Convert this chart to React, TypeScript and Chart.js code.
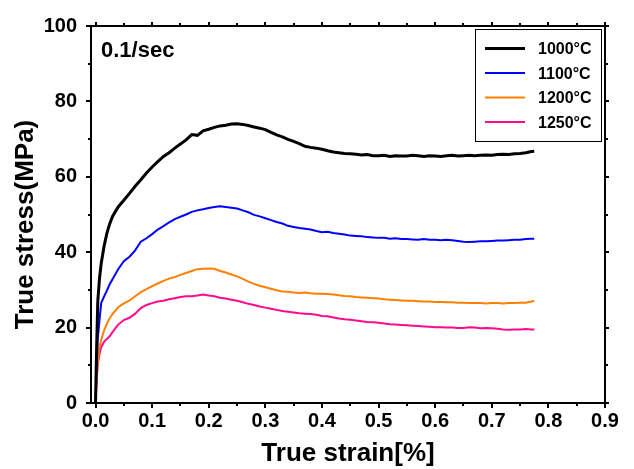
import React, { useEffect, useRef } from "react";
import { Chart, registerables } from "chart.js";

Chart.register(...registerables);

const STRAIN = [
  0, 0.002, 0.004, 0.007, 0.01, 0.015, 0.02, 0.025,
  0.03, 0.04, 0.05, 0.06, 0.07, 0.08, 0.09, 0.1, 0.11, 0.12,
  0.13, 0.14, 0.15, 0.16, 0.17, 0.18, 0.19, 0.2, 0.21, 0.22,
  0.23, 0.24, 0.25, 0.26, 0.27, 0.28, 0.29, 0.3, 0.31, 0.32,
  0.33, 0.34, 0.35, 0.36, 0.37, 0.38, 0.39, 0.4, 0.41, 0.42,
  0.43, 0.44, 0.45, 0.46, 0.47, 0.48, 0.49, 0.5, 0.51, 0.52,
  0.53, 0.54, 0.55, 0.56, 0.57, 0.58, 0.59, 0.6, 0.61, 0.62,
  0.63, 0.64, 0.65, 0.66, 0.67, 0.68, 0.69, 0.7, 0.71, 0.72,
  0.73, 0.74, 0.75, 0.76, 0.77, 0.775,
];

const STRESS_1000 = [
  0, 15, 27, 33, 37, 41.5, 45, 47.5,
  49.5, 52.0, 53.8, 55.6, 57.5, 59.2, 61.0, 62.6, 64.0, 65.4,
  66.4, 67.6, 68.7, 69.8, 71.2, 71.0, 72.2, 72.6, 73.1, 73.5,
  73.7, 74.0, 74.1, 73.9, 73.6, 73.2, 72.9, 72.5, 71.8, 71.1,
  70.6, 69.9, 69.4, 68.8, 68.1, 67.8, 67.6, 67.3, 66.9, 66.6,
  66.4, 66.2, 66.1, 66.0, 65.8, 65.9, 65.6, 65.6, 65.7, 65.4,
  65.6, 65.5, 65.5, 65.7, 65.6, 65.4, 65.6, 65.5, 65.4, 65.6,
  65.7, 65.5, 65.6, 65.7, 65.6, 65.7, 65.8, 65.7, 65.9, 66.0,
  65.9, 66.1, 66.2, 66.4, 66.7, 66.8,
];

const STRESS_1100 = [
  0, 10, 17, 22, 26.5, 28.2, 29.8, 31.5,
  32.8, 35.5, 37.6, 38.8, 40.5, 42.8, 43.7, 44.8, 46.0, 46.9,
  47.9, 48.8, 49.4, 50.0, 50.7, 51.1, 51.4, 51.7, 52.0, 52.2,
  52.0, 51.8, 51.6, 51.1, 50.6, 49.9, 49.5, 49.0, 48.5, 48.0,
  47.6, 47.0, 46.7, 46.4, 46.2, 46.0, 45.6, 45.3, 45.4, 45.1,
  44.9, 44.7, 44.4, 44.3, 44.2, 44.0, 43.9, 43.8, 43.8, 43.6,
  43.7, 43.5, 43.5, 43.4, 43.3, 43.5, 43.3, 43.3, 43.2, 43.3,
  43.2, 43.0, 42.8, 42.7, 42.8, 42.9, 42.9, 43.0, 43.1, 43.1,
  43.2, 43.3, 43.3, 43.5, 43.6, 43.6,
];

const STRESS_1200 = [
  0, 7, 11, 14.7, 16.8, 19.2, 21.0, 22.5,
  23.6, 25.4, 26.4, 27.2, 28.3, 29.4, 30.2, 31.0, 31.7, 32.4,
  33.0, 33.4, 34.0, 34.5, 35.0, 35.5, 35.6, 35.7, 35.6, 35.0,
  34.6, 34.1, 33.6, 32.9, 32.2, 31.6, 31.1, 30.7, 30.3, 29.9,
  29.6, 29.5, 29.3, 29.2, 29.3, 29.1, 29.0, 29.0, 28.9, 28.8,
  28.6, 28.4, 28.3, 28.1, 28.0, 27.9, 27.8, 27.7, 27.5, 27.4,
  27.3, 27.2, 27.1, 27.1, 27.0, 26.9, 26.9, 26.8, 26.8, 26.7,
  26.7, 26.6, 26.6, 26.5, 26.5, 26.5, 26.4, 26.5, 26.5, 26.4,
  26.5, 26.5, 26.6, 26.6, 26.9, 27.1,
];

const STRESS_1250 = [
  0, 6, 10.3, 13.0, 14.8, 16.2, 17.0, 17.7,
  18.8, 20.8, 22.0, 22.6, 23.7, 25.2, 26.0, 26.5, 26.9, 27.1,
  27.5, 27.8, 28.1, 28.3, 28.3, 28.5, 28.8, 28.5, 28.3, 27.9,
  27.7, 27.4, 27.1, 26.7, 26.3, 26.0, 25.6, 25.3, 25.0, 24.7,
  24.4, 24.2, 24.0, 23.8, 23.7, 23.6, 23.4, 23.1, 23.0, 22.7,
  22.4, 22.2, 22.1, 21.9, 21.7, 21.5, 21.4, 21.3, 21.1, 20.9,
  20.8, 20.7, 20.6, 20.5, 20.4, 20.3, 20.2, 20.1, 20.1, 20.0,
  20.0, 19.9, 19.9, 20.1, 20.0, 19.8, 19.9, 19.8, 19.7, 19.5,
  19.4, 19.5, 19.5, 19.6, 19.5, 19.5,
];

const SERIES_LABELS = ["1000°C", "1100°C", "1200°C", "1250°C"];
const SERIES_COLORS = ["#000000", "#0000ff", "#ff8000", "#ff0a8c"];
const SERIES_WIDTHS = [3, 2, 2, 2];

const X_TICKS = [0, 0.1, 0.2, 0.3, 0.4, 0.5, 0.6, 0.7, 0.8, 0.9];
const Y_TICKS = [0, 20, 40, 60, 80, 100];
const X_MIN = -0.008;
const X_MAX = 0.9;
const Y_MIN = 0;
const Y_MAX = 100;

const RATE_LABEL = "0.1/sec";
const X_TITLE = "True strain[%]";
const Y_TITLE = "True stress(MPa)";

const FONT = "'Liberation Sans', Arial, Helvetica, sans-serif";

const framePlugin = {
  id: "frameTicksLegend",
  afterDraw(chart: any) {
    const { ctx, chartArea: a, scales } = chart;
    const xs = scales.x;
    const ys = scales.y;
    ctx.save();
    ctx.strokeStyle = "#000";
    ctx.fillStyle = "#000";

    // frame
    ctx.lineWidth = 2;
    ctx.strokeRect(a.left, a.top, a.right - a.left, a.bottom - a.top);

    // ticks
    ctx.lineWidth = 2;
    const xStep = X_TICKS[1] - X_TICKS[0];
    const yStep = Y_TICKS[1] - Y_TICKS[0];
    const xVals: [number, boolean][] = [];
    X_TICKS.forEach((v, i) => {
      xVals.push([v, true]);
      if (i < X_TICKS.length - 1) xVals.push([v + xStep / 2, false]);
    });
    const yVals: [number, boolean][] = [];
    Y_TICKS.forEach((v, i) => {
      yVals.push([v, true]);
      if (i < Y_TICKS.length - 1) yVals.push([v + yStep / 2, false]);
    });
    ctx.beginPath();
    xVals.forEach(([v, major]) => {
      const px = Math.round(xs.getPixelForValue(v));
      const len = major ? 5 : 3;
      ctx.moveTo(px, a.bottom);
      ctx.lineTo(px, a.bottom + len);
      ctx.moveTo(px, a.top);
      ctx.lineTo(px, a.top - (major ? 4 : 3));
    });
    yVals.forEach(([v, major]) => {
      const py = Math.round(ys.getPixelForValue(v));
      const len = major ? 5 : 3;
      ctx.moveTo(a.left, py);
      ctx.lineTo(a.left - len, py);
      ctx.moveTo(a.right, py);
      ctx.lineTo(a.right + (major ? 4 : 3), py);
    });
    ctx.stroke();

    // rate label
    ctx.font = `bold 22px ${FONT}`;
    ctx.textAlign = "left";
    ctx.textBaseline = "alphabetic";
    ctx.fillText(RATE_LABEL, a.left + 10, a.top + 31);

    // y title
    ctx.save();
    ctx.font = `bold 26px ${FONT}`;
    ctx.textAlign = "center";
    ctx.textBaseline = "middle";
    ctx.translate(26, (a.top + a.bottom) / 2 + 10);
    ctx.rotate(-Math.PI / 2);
    ctx.fillText(Y_TITLE, 0, 0);
    ctx.restore();

    // legend
    const boxRight = a.right - 4;
    const boxTop = a.top + 3;
    const boxW = 126;
    const boxH = 112;
    const boxLeft = boxRight - boxW;
    ctx.fillStyle = "#fff";
    ctx.fillRect(boxLeft, boxTop, boxW, boxH);
    ctx.lineWidth = 1;
    ctx.strokeStyle = "#000";
    ctx.strokeRect(boxLeft + 0.5, boxTop + 0.5, boxW, boxH);
    ctx.font = `bold 16px ${FONT}`;
    ctx.textAlign = "left";
    ctx.textBaseline = "middle";
    chart.data.datasets.forEach((ds: any, i: number) => {
      const y = boxTop + 19.5 + i * 24.5;
      ctx.strokeStyle = ds.borderColor;
      ctx.lineWidth = ds.borderWidth;
      ctx.beginPath();
      ctx.moveTo(boxLeft + 10, y);
      ctx.lineTo(boxLeft + 50, y);
      ctx.stroke();
      ctx.fillStyle = "#000";
      ctx.fillText(ds.label, boxLeft + 63, y + 1.5);
    });
    ctx.restore();
  },
};

export default function App() {
  const ref = useRef<HTMLCanvasElement>(null);

  useEffect(() => {
    if (!ref.current) return;
    const seriesData = [STRESS_1000, STRESS_1100, STRESS_1200, STRESS_1250];
    const datasets = seriesData.map((arr, k) => ({
      label: SERIES_LABELS[k],
      data: STRAIN.map((s, i) => ({ x: s, y: arr[i] })),
      borderColor: SERIES_COLORS[k],
      backgroundColor: SERIES_COLORS[k],
      borderWidth: SERIES_WIDTHS[k],
      pointRadius: 0,
      tension: 0,
      fill: false,
    }));

    const tickFont = { family: FONT, size: 20, weight: "bold" as const };

    const chart = new Chart(ref.current, {
      type: "line",
      data: { datasets },
      options: {
        animation: false,
        responsive: false,
        maintainAspectRatio: false,
        devicePixelRatio: 1,
        layout: { padding: { top: 22, right: 29, left: 0, bottom: 0 } },
        plugins: {
          legend: { display: false },
          tooltip: { enabled: false },
        },
        scales: {
          x: {
            type: "linear",
            min: X_MIN,
            max: X_MAX,
            afterBuildTicks: (s: any) => {
              s.ticks = X_TICKS.map((v) => ({ value: v }));
            },
            afterFit: (s: any) => {
              s.height = 66;
            },
            grid: { display: false, drawTicks: false },
            border: { display: false },
            ticks: {
              font: tickFont,
              color: "#000",
              padding: 6,
              maxRotation: 0,
              autoSkip: false,
              callback: (v: any) => Number(v).toFixed(1),
            },
            title: {
              display: true,
              text: X_TITLE,
              color: "#000",
              font: { family: FONT, size: 26, weight: "bold" },
              padding: { top: 0, bottom: 0 },
            },
          },
          y: {
            type: "linear",
            min: Y_MIN,
            max: Y_MAX,
            afterBuildTicks: (s: any) => {
              s.ticks = Y_TICKS.map((v) => ({ value: v }));
            },
            afterFit: (s: any) => {
              s.width = 91;
            },
            grid: { display: false, drawTicks: false },
            border: { display: false },
            ticks: {
              font: tickFont,
              color: "#000",
              padding: 14,
              autoSkip: false,
              callback: (v: any) => String(v),
            },
          },
        },
      },
      plugins: [framePlugin],
    } as any);

    return () => chart.destroy();
  }, []);

  return (
    <div
      style={{
        position: "absolute",
        left: 0,
        top: 0,
        width: 634,
        height: 469,
        background: "#fff",
      }}
    >
      <canvas
        ref={ref}
        width={634}
        height={469}
        style={{ display: "block", width: 634, height: 469 }}
      />
    </div>
  );
}
